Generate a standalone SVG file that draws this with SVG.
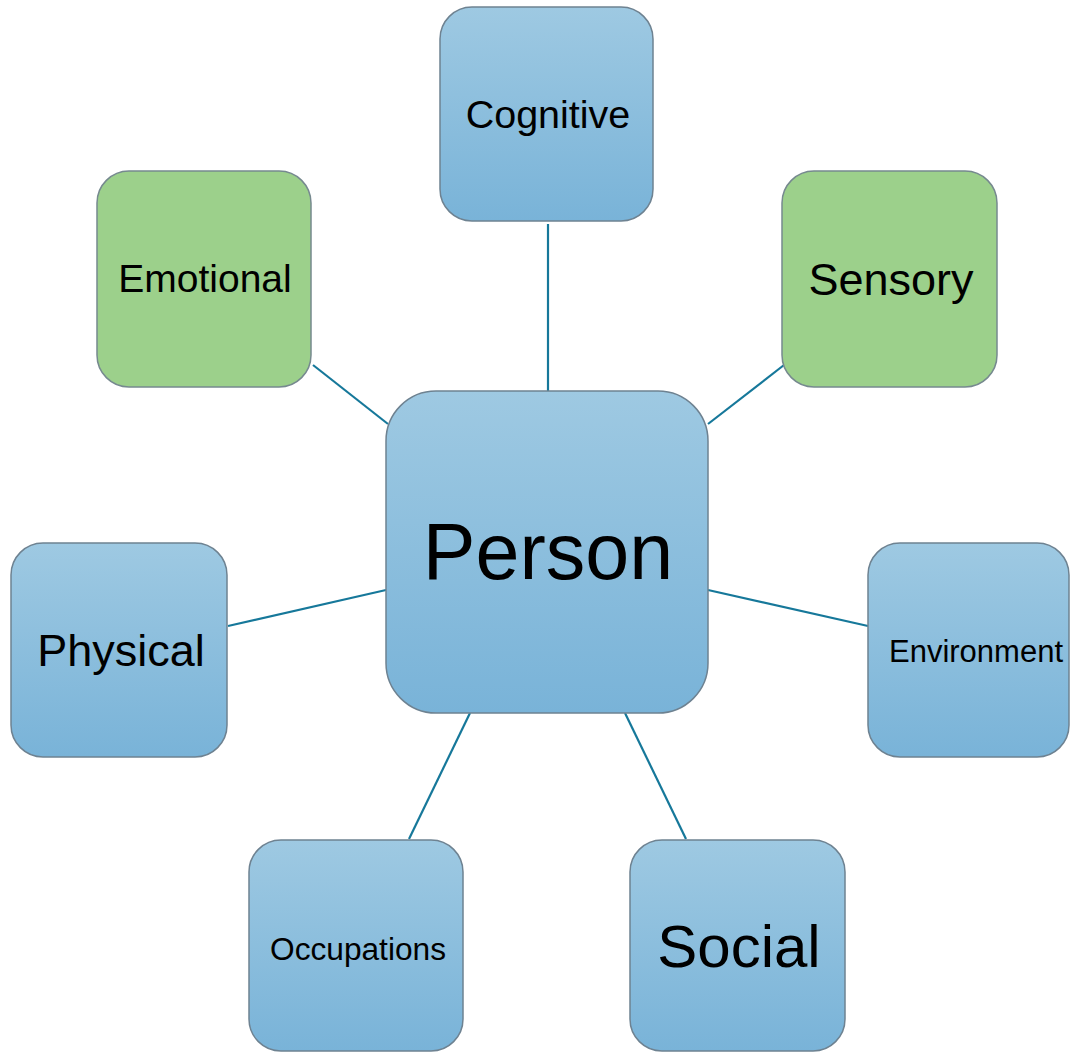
<svg xmlns="http://www.w3.org/2000/svg" width="1070" height="1053" viewBox="0 0 1070 1053">
<style>
.blue{fill:url(#gb);stroke:#6e8291;stroke-width:1.5}
.green{fill:#9cd08b;stroke:#76898f;stroke-width:1.5}
.lbl{font-family:"Liberation Sans",Arial,sans-serif;fill:#000;text-anchor:middle}
.conn line{stroke:#16789a;stroke-width:2.2}
</style>
<defs>
<linearGradient id="gb" x1="0" y1="0" x2="0" y2="1">
<stop offset="0" stop-color="#9ec9e2"/>
<stop offset="1" stop-color="#79b3d8"/>
</linearGradient>
</defs>
<rect width="1070" height="1053" fill="#fff"/>
<g class="conn" id="connectors">
<line x1="548" y1="224" x2="548" y2="393"/>
<line x1="313" y1="365" x2="388" y2="424"/>
<line x1="784" y1="365" x2="708" y2="424"/>
<line x1="228" y1="626" x2="386" y2="590"/>
<line x1="708" y1="590" x2="868" y2="626"/>
<line x1="409" y1="839" x2="470" y2="713"/>
<line x1="686" y1="839" x2="625" y2="713"/>
</g>
<g id="person"><rect class="blue" x="386" y="391" width="322" height="322" rx="50"/><text class="lbl" x="548" y="579" font-size="79">Person</text></g>
<g id="cognitive"><rect class="blue" x="440" y="7" width="213" height="214" rx="32"/><text class="lbl" x="548" y="128" font-size="39.5">Cognitive</text></g>
<g id="emotional"><rect class="green" x="97" y="171" width="214" height="216" rx="32"/><text class="lbl" x="205" y="292" font-size="39">Emotional</text></g>
<g id="sensory"><rect class="green" x="782" y="171" width="215" height="216" rx="32"/><text class="lbl" x="891" y="295" font-size="45">Sensory</text></g>
<g id="physical"><rect class="blue" x="11" y="543" width="216" height="214" rx="32"/><text class="lbl" x="121" y="666" font-size="45">Physical</text></g>
<g id="environment"><rect class="blue" x="868" y="543" width="201" height="214" rx="32"/><text class="lbl" x="976" y="662" font-size="31">Environment</text></g>
<g id="occupations"><rect class="blue" x="249" y="840" width="214" height="211" rx="32"/><text class="lbl" x="358" y="960" font-size="31" textLength="176" lengthAdjust="spacingAndGlyphs">Occupations</text></g>
<g id="social"><rect class="blue" x="630" y="840" width="215" height="211" rx="32"/><text class="lbl" x="739" y="967" font-size="60">Social</text></g>
</svg>
